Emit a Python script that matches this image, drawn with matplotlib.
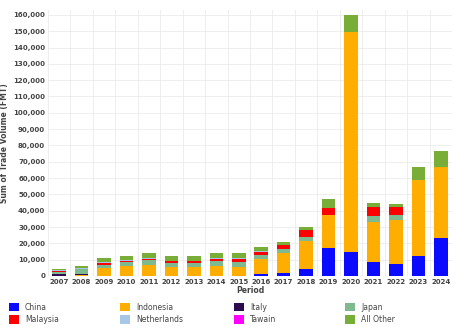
import numpy as np
import matplotlib.pyplot as plt

# Trade volume by origin, stacked per year
years = ['2007', '2008', '2009', '2010', '2011', '2012', '2013', '2014', '2015',
         '2016', '2017', '2018', '2019', '2020', '2021', '2022', '2023', '2024']

china = [0, 0, 0, 0, 0, 0, 0, 0, 0, 1500, 2000, 4300, 17100, 14500, 8400, 7200, 12300, 23100]
indonesia = [300, 800, 5000, 6000, 6500, 5500, 5500, 6000, 5500, 9000, 12000, 17300, 20300, 135300, 24900, 27100, 46500, 43900]
italy = [900, 200, 0, 0, 0, 0, 0, 0, 0, 0, 0, 0, 0, 0, 0, 0, 0, 0]
japan = [1200, 3200, 2000, 2500, 3000, 2500, 2500, 3000, 3000, 2500, 2500, 2500, 0, 0, 3500, 3100, 0, 0]
malaysia = [800, 200, 800, 900, 1000, 900, 900, 1500, 2000, 2000, 2200, 4100, 4100, 0, 5700, 4700, 0, 0]
netherlands = [300, 400, 500, 600, 600, 500, 500, 500, 500, 500, 500, 0, 0, 0, 0, 0, 0, 0]
tawain = [0] * 18
all_other = [1000, 1400, 2500, 2500, 2900, 2600, 2600, 3000, 3000, 2000, 1800, 1800, 5500, 10000, 2100, 2000, 8200, 9600]

series = [
    ('China', china, '#0a0aff'),
    ('Indonesia', indonesia, '#ffae00'),
    ('Italy', italy, '#2e0a4f'),
    ('Japan', japan, '#7fb98f'),
    ('Malaysia', malaysia, '#ff0000'),
    ('Netherlands', netherlands, '#a6c8e6'),
    ('Tawain', tawain, '#ff00ff'),
    ('All Other', all_other, '#78ad38'),
]

fig = plt.figure(figsize=(4.73, 3.31), dpi=100)
ax = fig.add_axes([48 / 473, 1 - 276 / 331, 404 / 473, 266 / 331])

x = np.arange(len(years))
bottom = np.zeros(len(years))
handles = []
for name, vals, color in series:
    vals = np.array(vals, dtype=float)
    b = ax.bar(x, vals, 0.6, bottom=bottom, color=color, label=name, zorder=3)
    handles.append(b)
    bottom += vals

ax.set_xlim(-0.5, len(years) - 0.5)
ax.set_ylim(0, 163000)
ax.set_yticks(np.arange(0, 160001, 10000))
ax.set_yticklabels([f'{v:,}' for v in range(0, 160001, 10000)])
ax.set_xticks(x)
ax.set_xticklabels(years)
ax.set_xticks(np.arange(-0.5, len(years), 1), minor=True)
ax.grid(axis='y', color='#ebebeb', lw=0.6, zorder=0)
ax.grid(axis='x', which='minor', color='#ebebeb', lw=0.6, zorder=0)
ax.tick_params(which='both', length=0)
ax.tick_params(axis='both', labelsize=5, labelcolor='#444444', pad=2)
for lab in ax.get_xticklabels() + ax.get_yticklabels():
    lab.set_fontweight('bold')
for s in ax.spines.values():
    s.set_visible(False)

ax.set_xlabel('Period', fontsize=5.5, fontweight='bold', color='#444444', labelpad=1)
ax.set_ylabel('Sum of Trade Volume (FMT)', fontsize=5.5, fontweight='bold', color='#444444', labelpad=3)

# legend: 4 columns, 2 rows (row 1: first four series, row 2: last four)
col_x = [2 / 473, 113 / 473, 227 / 473, 338 / 473]
for i, cx in enumerate(col_x):
    fig.legend(handles=[handles[i], handles[i + 4]], loc='lower left',
               bbox_to_anchor=(cx, 0.0), frameon=False, fontsize=5.5,
               handlelength=1.3, handleheight=1.3, handletextpad=0.8,
               labelspacing=0.45, labelcolor='#444444')

fig.savefig('out.png', dpi=100)
